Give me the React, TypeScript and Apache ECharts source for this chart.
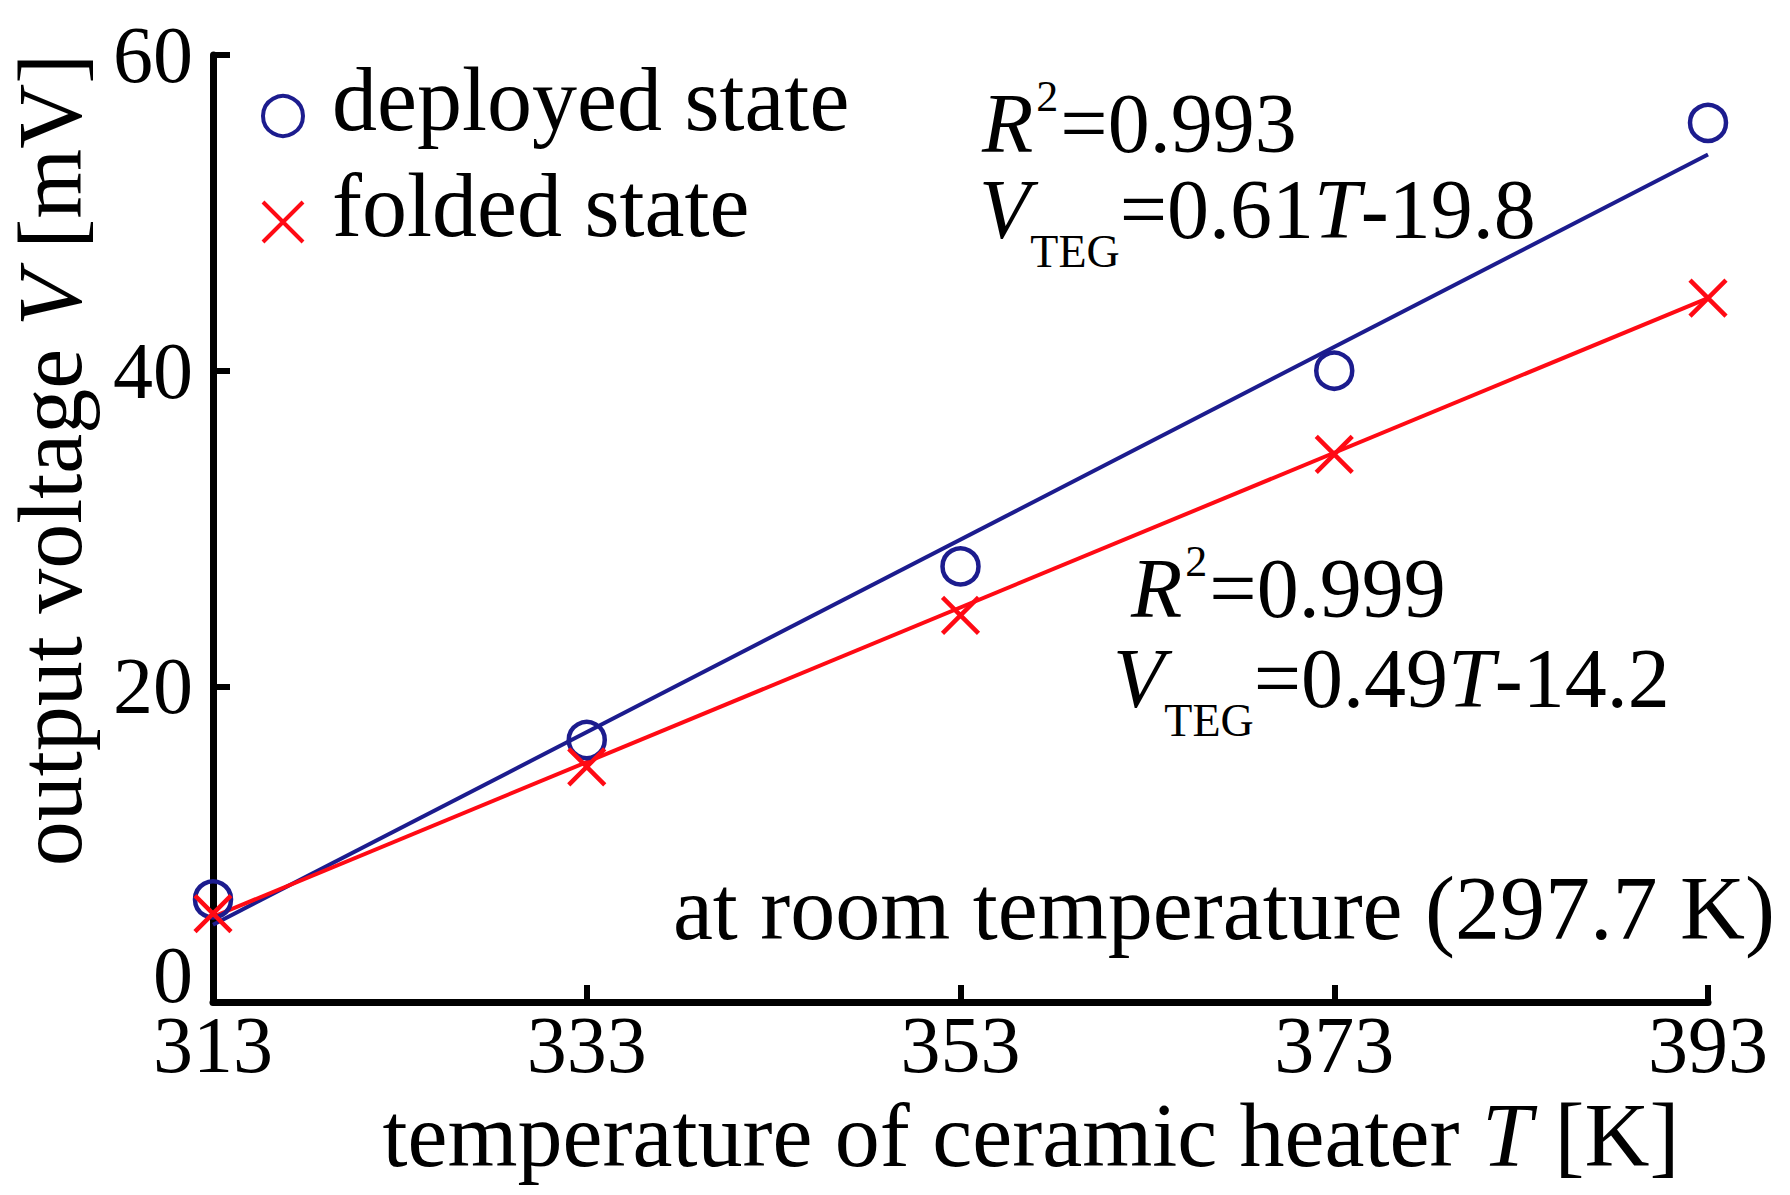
import React, { useEffect, useRef } from "react";
import * as echarts from "echarts";

const TEMPS = [313, 333, 353, 373, 393];
const DEPLOYED = [6.5, 16.6, 27.6, 40.0, 55.7];
const FOLDED = [5.6, 14.9, 24.5, 34.7, 44.6];
const FIT_T = [313, 393];
const FIT_DEPLOYED = [4.9, 53.7];
const FIT_FOLDED = [5.4, 44.6];
const X_TICKS = [313, 333, 353, 373, 393];
const Y_MIN = 0;
const Y_MAX = 60;
const Y_STEP = 20;

const SERIES_NAMES = ["deployed state", "folded state"];
const FIT_LABELS = [
  { r2: "0.993", a: "0.61", b: "19.8" },
  { r2: "0.999", a: "0.49", b: "14.2" },
];
const X_NAME = ["temperature of ceramic heater ", "T", " [K]"];
const Y_NAME = ["output voltage ", "V", " [mV]"];
const NOTE = "at room temperature (297.7 K)";

const FONT = "'Liberation Serif', 'Times New Roman', serif";
const BLUE = "#1c1c8e";
const RED = "#ff0a14";
const CROSS = "path://M0,0L10,10M10,0L0,10";

const pair = (xs: number[], ys: number[]) => xs.map((x, i) => [x, ys[i]]);

function eqRich(size: number) {
  return {
    n: { fontSize: size, fontFamily: FONT, color: "#000", lineHeight: 160 },
    i: { fontSize: size, fontFamily: FONT, fontStyle: "italic", color: "#000", lineHeight: 160 },
    sup: { fontSize: 44, fontFamily: FONT, color: "#000", verticalAlign: "top", padding: [31, 2, 0, 3] },
    sub: { fontSize: 46, fontFamily: FONT, color: "#000", verticalAlign: "top", padding: [99, 0, 0, 0] },
  };
}

export default function App() {
  const ref = useRef<HTMLDivElement>(null);
  useEffect(() => {
    if (!ref.current) return;
    const chart = echarts.init(ref.current, null, { renderer: "svg" });
    const eqSize = 84;
    const annos: any[] = [];
    const fitPos = [
      { x1: 982, t1: 43.6, x2: 979, t2: 129.6 },
      { x1: 1131, t1: 508.6, x2: 1113, t2: 598.6 },
    ];
    FIT_LABELS.forEach((f, k) => {
      const p = fitPos[k];
      annos.push({
        type: "text",
        x: p.x1,
        y: p.t1,
        style: {
          text: `{i|R}{sup|2}{n|=${f.r2}}`,
          rich: eqRich(eqSize),
          align: "left",
          verticalAlign: "top",
        },
      });
      annos.push({
        type: "text",
        x: p.x2,
        y: p.t2,
        style: {
          text: `{i|V}{sub|TEG}{n|=${f.a}}{i|T}{n|-${f.b}}`,
          rich: eqRich(eqSize),
          align: "left",
          verticalAlign: "top",
        },
      });
    });

    const nameRich = (lh: number) => ({
      n: { fontSize: 90, fontFamily: FONT, color: "#000", lineHeight: lh },
      i: { fontSize: 90, fontFamily: FONT, fontStyle: "italic", color: "#000", lineHeight: lh },
    });

    chart.setOption({
      animation: false,
      backgroundColor: "#ffffff",
      grid: { left: 213, right: 82, top: 55, bottom: 193, containLabel: false },
      legend: {
        data: [
          { name: SERIES_NAMES[0], icon: "circle" },
          { name: SERIES_NAMES[1], icon: CROSS },
        ],
        orient: "vertical",
        left: 261,
        top: 54,
        padding: 0,
        itemGap: -18,
        itemWidth: 40,
        itemHeight: 40,
        selectedMode: false,
        itemStyle: { borderWidth: 4 },
        formatter: (name: string) => `{a|${name}}`,
        textStyle: {
          fontFamily: FONT,
          fontSize: 90,
          color: "#000",
          rich: {
            a: {
              fontFamily: FONT,
              fontSize: 90,
              color: "#000",
              lineHeight: 74,
              padding: [0, 0, 34, 24],
            },
          },
        },
      },
      xAxis: {
        type: "value",
        min: X_TICKS[0],
        max: X_TICKS[X_TICKS.length - 1],
        splitLine: { show: false },
        axisLine: { show: true, lineStyle: { color: "#000", width: 7 } },
        axisTick: {
          show: true,
          inside: true,
          length: 17,
          lineStyle: { color: "#000", width: 6 },
          customValues: X_TICKS,
        },
        axisLabel: {
          customValues: X_TICKS,
          fontFamily: FONT,
          fontSize: 80,
          color: "#000",
          margin: 3,
        },
      },
      yAxis: {
        type: "value",
        min: Y_MIN,
        max: Y_MAX,
        interval: Y_STEP,
        splitLine: { show: false },
        axisLine: { show: true, lineStyle: { color: "#000", width: 7 } },
        axisTick: { show: true, inside: true, length: 17, lineStyle: { color: "#000", width: 6 } },
        axisLabel: {
          fontFamily: FONT,
          fontSize: 80,
          color: "#000",
          margin: 20,
          lineHeight: 54,
          verticalAlignMinLabel: "bottom",
        },
      },
      series: [
        {
          name: "fit deployed",
          type: "line",
          data: pair(FIT_T, FIT_DEPLOYED),
          showSymbol: false,
          symbol: "none",
          lineStyle: { color: BLUE, width: 4 },
          itemStyle: { color: BLUE },
          silent: true,
        },
        {
          name: "fit folded",
          type: "line",
          data: pair(FIT_T, FIT_FOLDED),
          showSymbol: false,
          symbol: "none",
          lineStyle: { color: RED, width: 4 },
          itemStyle: { color: RED },
          silent: true,
        },
        {
          name: SERIES_NAMES[0],
          type: "scatter",
          data: pair(TEMPS, DEPLOYED),
          symbol: "circle",
          symbolSize: 36,
          itemStyle: { color: "rgba(0,0,0,0)", borderColor: BLUE, borderWidth: 4.5, opacity: 1 },
          z: 3,
        },
        {
          name: SERIES_NAMES[1],
          type: "scatter",
          data: pair(TEMPS, FOLDED),
          symbol: CROSS,
          symbolSize: 36,
          itemStyle: { color: "rgba(0,0,0,0)", borderColor: RED, borderWidth: 4.5, opacity: 1 },
          z: 3,
        },
      ],
      graphic: [
        ...annos,
        {
          type: "text",
          x: 1775,
          y: 908,
          style: {
            text: NOTE,
            fontFamily: FONT,
            fontSize: 90,
            fill: "#000",
            align: "right",
            verticalAlign: "middle",
          },
        },
        {
          type: "text",
          x: 1031,
          y: 1135,
          style: {
            text: `{n|${X_NAME[0]}}{i|${X_NAME[1]}}{n|${X_NAME[2]}}`,
            rich: nameRich(80),
            align: "center",
            verticalAlign: "middle",
          },
        },
        {
          type: "text",
          x: 50,
          y: 460,
          rotation: Math.PI / 2,
          style: {
            text: `{n|${Y_NAME[0]}}{i|${Y_NAME[1]}}{n|${Y_NAME[2]}}`,
            rich: nameRich(66),
            align: "center",
            verticalAlign: "middle",
          },
        },
      ],
    });
    return () => chart.dispose();
  }, []);
  return (
    <div
      ref={ref}
      style={{ position: "fixed", left: 0, top: 0, width: 1790, height: 1195, background: "#fff" }}
    />
  );
}
